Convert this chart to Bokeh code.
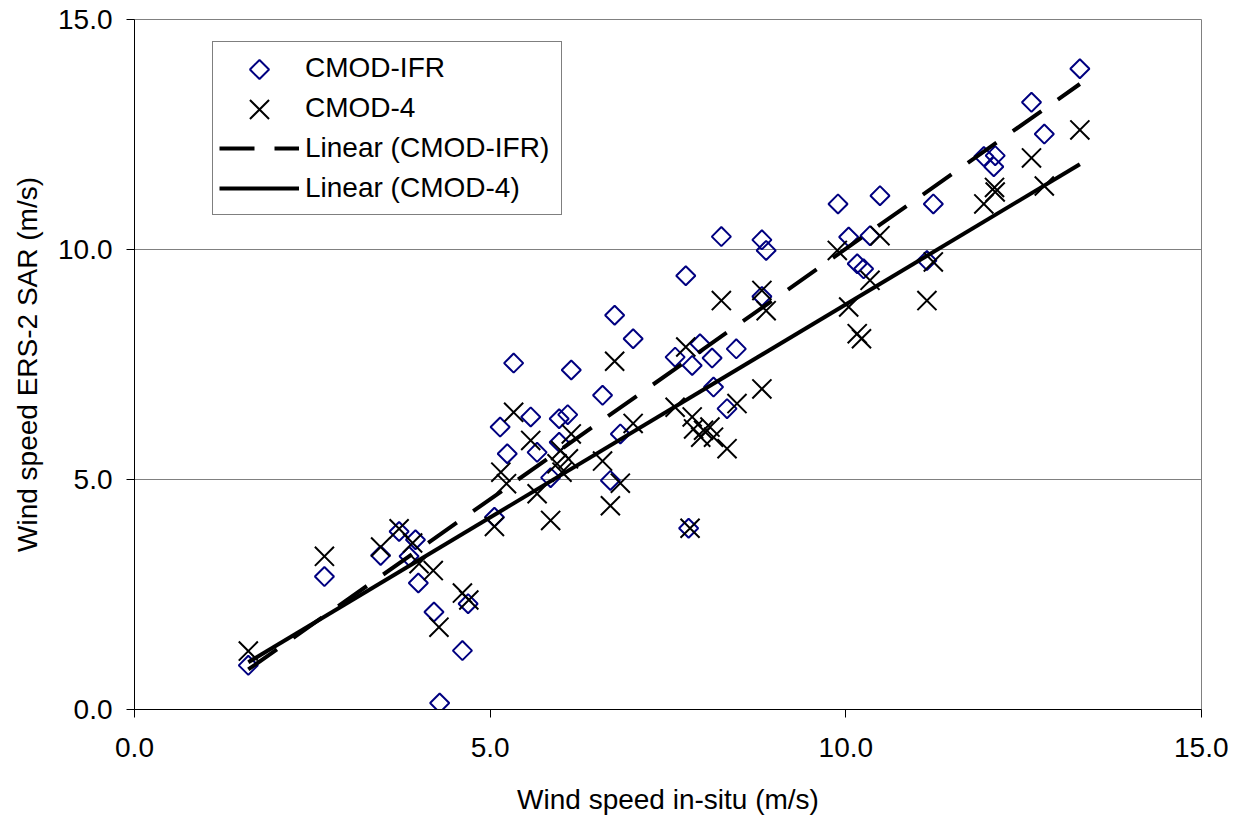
import numpy as np
from bokeh.plotting import figure
from bokeh.models import (Legend, LegendItem, FixedTicker, PrintfTickFormatter, Range1d,
                          ColumnDataSource)
from bokeh.embed import file_html
from bokeh.resources import INLINE

# CMOD-IFR retrievals (in-situ wind, SAR wind)
ifr_x = [1.60, 2.67, 3.46, 3.72, 3.95, 3.86, 3.99, 4.21, 4.69, 4.61, 4.29, 5.06, 5.14, 5.24,
         5.33, 5.57, 5.66, 5.85, 5.97, 6.09, 5.97, 6.14, 6.58, 6.69, 6.83, 6.75, 7.01, 7.60,
         7.75, 7.84, 7.95, 8.12, 8.14, 8.33, 8.46, 8.25, 8.82, 8.88, 8.82, 7.79, 9.89, 10.48,
         10.04, 10.34, 10.16, 10.25, 11.23, 11.14, 11.94, 12.10, 12.08, 12.61, 12.79, 13.29]
ifr_y = [0.96, 2.89, 3.35, 3.87, 3.69, 3.33, 2.75, 2.12, 2.30, 1.28, 0.14, 4.18, 6.14, 5.56,
         7.53, 6.36, 5.59, 5.04, 6.32, 6.41, 5.81, 7.38, 6.83, 4.98, 5.99, 8.57, 8.06, 7.66,
         9.43, 7.48, 7.95, 7.64, 7.01, 6.54, 7.84, 10.28, 10.21, 9.98, 8.98, 3.94, 10.99, 11.17,
         10.27, 10.30, 9.69, 9.58, 10.99, 9.76, 12.02, 12.04, 11.80, 13.20, 12.51, 13.93]

# CMOD-4 retrievals
c4_x = [1.60, 2.67, 3.46, 3.72, 3.91, 4.00, 4.20, 4.28, 4.61, 4.70, 5.06, 5.15, 5.23, 5.33,
        5.57, 5.66, 5.85, 5.99, 5.94, 6.01, 6.10, 6.14, 6.58, 6.69, 6.83, 6.75, 7.01, 7.60,
        7.75, 7.84, 7.86, 8.00, 8.09, 7.96, 8.14, 8.33, 8.47, 8.25, 8.82, 8.88, 8.82, 7.81,
        9.88, 10.48, 10.04, 10.16, 10.22, 10.34, 11.23, 11.14, 11.94, 12.09, 12.10, 12.61,
        12.79, 13.29]
c4_y = [1.27, 3.33, 3.53, 3.93, 3.62, 3.17, 3.02, 1.79, 2.53, 2.38, 3.98, 5.16, 4.91, 6.46,
        5.85, 4.69, 4.11, 5.63, 5.34, 5.16, 5.45, 5.99, 5.40, 4.43, 4.92, 7.57, 6.22, 6.57,
        7.88, 6.36, 6.10, 6.07, 6.14, 5.92, 5.92, 5.67, 6.65, 8.89, 9.11, 8.67, 6.97, 3.94,
        9.98, 10.30, 8.75, 8.17, 8.06, 9.33, 9.73, 8.89, 10.99, 11.35, 11.25, 11.99,
        11.38, 12.60]

series_labels = ["CMOD-IFR", "CMOD-4", "Linear (CMOD-IFR)", "Linear (CMOD-4)"]
ticks = [0, 5, 10, 15]
FONT = "Liberation Sans"
IFR_COLOR = "#000080"

# layout (pixels)
W, H = 1228, 817
B_LEFT, B_RIGHT, B_TOP, B_BOTTOM = 134, 27, 19, 108
LEG_LEFT, LEG_TOP = 78, 23          # legend box offset from frame's top-left
LEG_PAD, LEG_GLYPH_W, LEG_ROW, LEG_SPACING = 6, 80, 40, 0
LEG_HEIGHT = 2 * LEG_PAD + 4 * LEG_ROW + 3 * LEG_SPACING + 1

p = figure(width=W, height=H, output_backend="svg", toolbar_location=None,
           x_range=Range1d(0, 15), y_range=Range1d(0, 15),
           min_border_left=B_LEFT, min_border_right=B_RIGHT,
           min_border_top=B_TOP, min_border_bottom=B_BOTTOM)
frame_w = W - B_LEFT - B_RIGHT
frame_h = H - B_TOP - B_BOTTOM

p.background_fill_color = "white"
p.border_fill_color = "white"
p.outline_line_color = "#808080"
p.outline_line_width = 1

p.xgrid.visible = False
p.ygrid.ticker = FixedTicker(ticks=[5, 10])
p.ygrid.grid_line_color = "#808080"
p.ygrid.grid_line_width = 1

for ax in (p.xaxis[0], p.yaxis[0]):
    ax.ticker = FixedTicker(ticks=ticks)
    ax.formatter = PrintfTickFormatter(format="%.1f")
    ax.minor_tick_line_color = None
    ax.major_tick_in = 0
    ax.major_tick_out = 8
    ax.axis_line_color = "black"
    ax.major_tick_line_color = "black"
    ax.major_label_text_font = FONT
    ax.major_label_text_font_size = "28px"
    ax.major_label_text_color = "black"
    ax.axis_label_text_font = FONT
    ax.axis_label_text_font_size = "28px"
    ax.axis_label_text_font_style = "normal"
    ax.axis_label_text_color = "black"

p.xaxis.axis_label = "Wind speed in-situ (m/s)"
p.yaxis.axis_label = "Wind speed ERS-2 SAR (m/s)"
p.xaxis.major_label_standoff = 20
p.xaxis.axis_label_standoff = 24
p.yaxis.major_label_standoff = 14
p.yaxis.axis_label_standoff = 12

# linear trend lines (least squares)
fi = np.polyfit(ifr_x, ifr_y, 1)
f4 = np.polyfit(c4_x, c4_y, 1)
xi = np.array([min(ifr_x), max(ifr_x)])
x4 = np.array([min(c4_x), max(c4_x)])

IFR_STYLE = dict(marker="square", size=13.5, fill_color=None, line_color=IFR_COLOR, line_width=2)
C4_STYLE = dict(marker="x", size=27, line_color="black", line_width=2)

src_ifr = ColumnDataSource(dict(x=ifr_x, y=ifr_y))
r_ifr = p.scatter("x", "y", source=src_ifr, angle=np.pi / 4, **IFR_STYLE)
r_c4 = p.scatter(c4_x, c4_y, **C4_STYLE)
r_li = p.line(xi, np.polyval(fi, xi), line_color="black", line_width=4, line_dash="35 20")
r_l4 = p.line(x4, np.polyval(f4, x4), line_color="black", line_width=4)

# invisible proxies keep legend rows for the markers; the symbols are drawn separately
proxy_ifr = p.scatter(x=[], y=[], marker="square", line_alpha=0, fill_alpha=0)
proxy_c4 = p.scatter(x=[], y=[], marker="x", line_alpha=0, fill_alpha=0)

legend = Legend(items=[
    LegendItem(label=series_labels[0], renderers=[proxy_ifr]),
    LegendItem(label=series_labels[1], renderers=[proxy_c4]),
    LegendItem(label=series_labels[2], renderers=[r_li]),
    LegendItem(label=series_labels[3], renderers=[r_l4]),
], location=(LEG_LEFT, frame_h - LEG_TOP - LEG_HEIGHT))
legend.label_text_font = FONT
legend.label_text_font_size = "28px"
legend.label_text_color = "black"
legend.border_line_color = "black"
legend.border_line_width = 1
legend.background_fill_alpha = 0
legend.padding = LEG_PAD
legend.spacing = LEG_SPACING
legend.glyph_width = LEG_GLYPH_W
legend.glyph_height = LEG_ROW
legend.label_height = LEG_ROW
legend.label_standoff = 6
legend.label_width = 250
legend.margin = 0
p.add_layout(legend, "center")

# legend marker symbols (same size/rotation as in the plot), placed in the legend's glyph slots
gx_px = LEG_LEFT + LEG_PAD + LEG_GLYPH_W / 2 + 1
row_px = [LEG_TOP + LEG_PAD + LEG_ROW / 2 + 1 + k * (LEG_ROW + LEG_SPACING) for k in range(2)]
to_x = lambda px: px * 15 / frame_w
to_y = lambda py: 15 - py * 15 / frame_h
p.scatter([to_x(gx_px)], [to_y(row_px[0])], angle=np.pi / 4, **IFR_STYLE)
p.scatter([to_x(gx_px)], [to_y(row_px[1])], **C4_STYLE)

open("out.html", "w").write(file_html(p, INLINE))
